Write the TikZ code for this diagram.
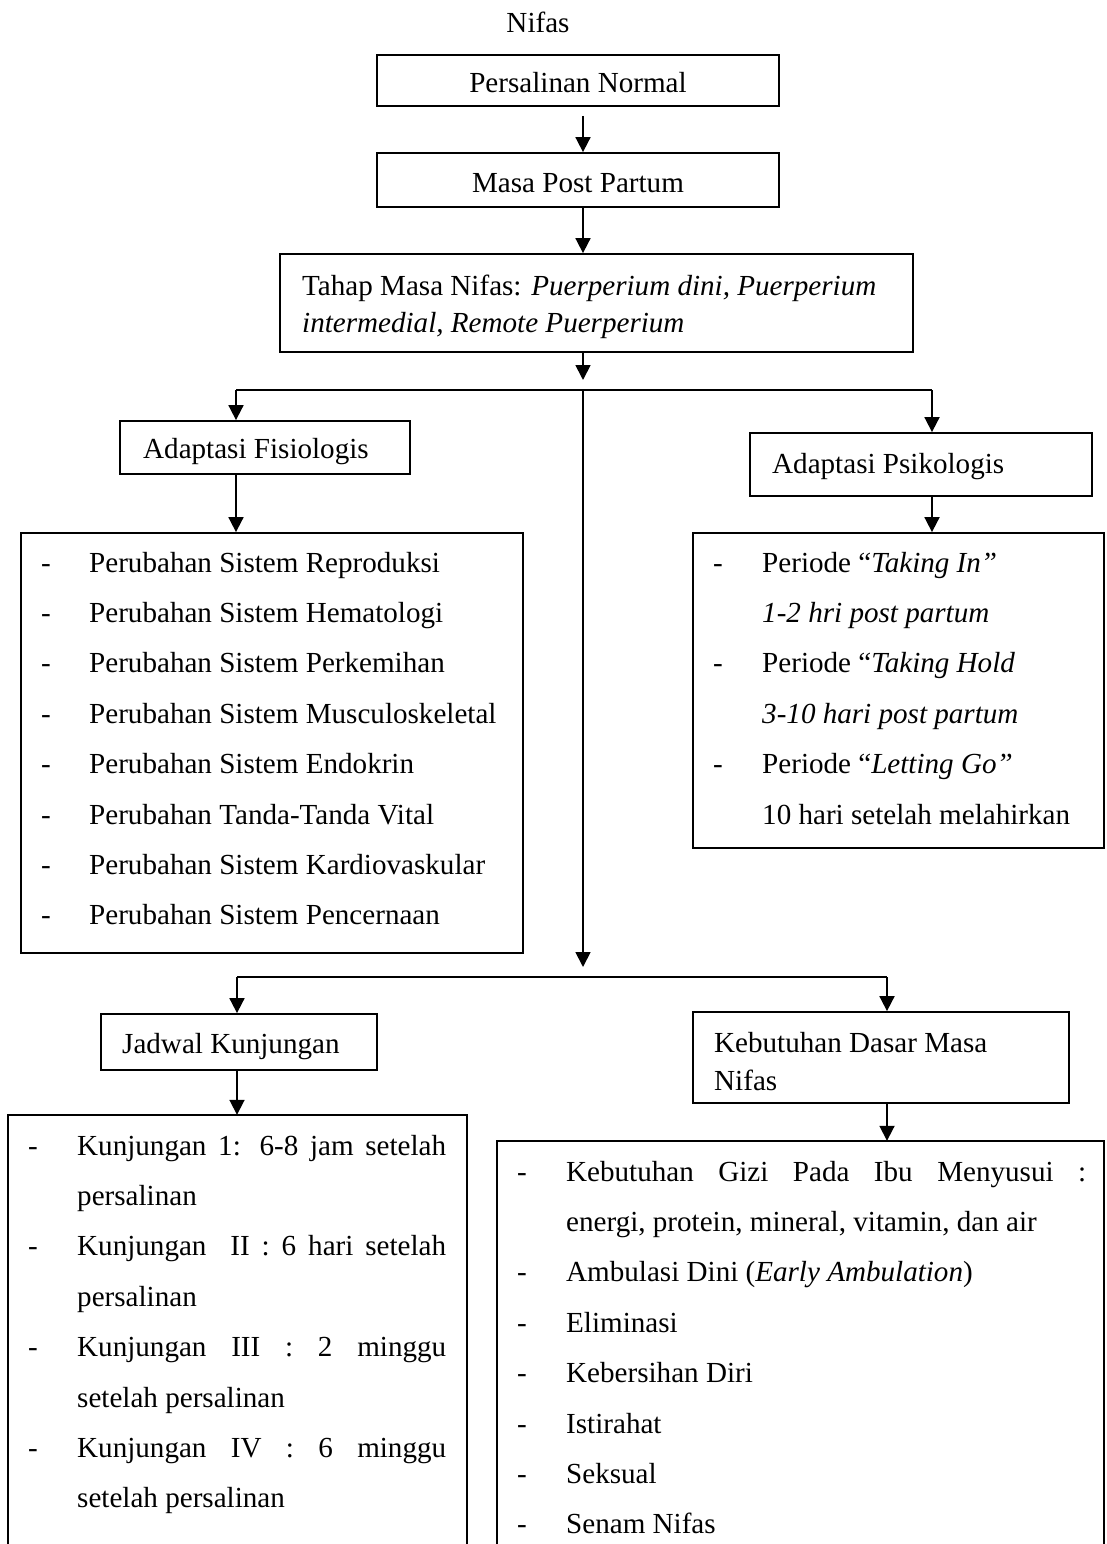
\documentclass[tikz,border=0pt]{standalone}
\usepackage{fontspec}
\setmainfont{Liberation Serif}
\usetikzlibrary{arrows.meta}
\newcommand\fsz{\fontsize{29.1}{35}\selectfont}
\begin{document}
\begin{tikzpicture}[x=1pt,y=-1pt,
  ln/.style={line width=1.8pt},
  arr/.style={line width=1.8pt,-{Triangle[width=15pt,length=15pt]}},
  box/.style={draw,line width=1.8pt,inner sep=0pt},
  txt/.style={inner sep=0pt,anchor=base west,font=\fsz},
  ctxt/.style={inner sep=0pt,anchor=base,font=\fsz},
  dashmark/.style={inner sep=0pt,anchor=base,font=\fsz}]
\useasboundingbox (0,0) rectangle (1106,1544);
\fill[white] (0,0) rectangle (1106,1544);

% coordinates for trunk and junctions
\coordinate (tx) at (583,0);
\coordinate (j1) at (583,390);
\coordinate (l1L) at (236,390);
\coordinate (l1R) at (932,390);
\coordinate (j2) at (583,977);
\coordinate (l2L) at (237,977);
\coordinate (l2R) at (887,977);

% title
\node[ctxt] (title) at (538,33) {Nifas};

% boxes
\node[box,minimum width=402pt,minimum height=51pt] (b1) at (578,80.5) {};
\node[ctxt] (b1t) at (578,93) {Persalinan Normal};
\node[box,minimum width=402pt,minimum height=54pt] (b2) at (578,180) {};
\node[ctxt] (b2t) at (578,192) {Masa Post Partum};
\node[box,minimum width=633pt,minimum height=98pt] (b3) at (596.5,303) {};
\node[txt] (b3t1) at (302,295) {Tahap Masa Nifas: \textit{Puerperium dini, Puerperium}};
\node[txt] (b3t2) at (302,332) {\textit{intermedial, Remote Puerperium}};

\node[box,minimum width=290pt,minimum height=53pt] (fis) at (265,447.5) {};
\node[txt] (fist) at (143,458) {Adaptasi Fisiologis};
\node[box,minimum width=342pt,minimum height=63pt] (psi) at (921,464.5) {};
\node[txt] (psit) at (772,473) {Adaptasi Psikologis};

\node[box,minimum width=502pt,minimum height=420pt] (flist) at (272,743) {};
\node[box,minimum width=411pt,minimum height=315pt] (plist) at (898.5,690.5) {};

\node[box,minimum width=276pt,minimum height=56pt] (jad) at (239,1042) {};
\node[txt] (jadt) at (122,1053) {Jadwal Kunjungan};
\node[box,minimum width=376pt,minimum height=91pt] (keb) at (881,1057.5) {};
\node[txt] (kebt1) at (714,1052) {Kebutuhan Dasar Masa};
\node[txt] (kebt2) at (714,1090) {Nifas};

% open boxes at the bottom (cut by the page edge)
\node[inner sep=0pt,minimum width=459pt,minimum height=429pt] (jlist) at (237.5,1329.5) {};
\draw[ln] (jlist.south west) -- (jlist.north west) -- (jlist.north east) -- (jlist.south east);
\node[inner sep=0pt,minimum width=607pt,minimum height=403pt] (klist) at (800.5,1342.5) {};
\draw[ln] (klist.south west) -- (klist.north west) -- (klist.north east) -- (klist.south east);

% Fisiologis list
\foreach \t [count=\i] in {Perubahan Sistem Reproduksi,Perubahan Sistem Hematologi,Perubahan Sistem Perkemihan,Perubahan Sistem Musculoskeletal,Perubahan Sistem Endokrin,Perubahan Tanda-Tanda Vital,Perubahan Sistem Kardiovaskular,Perubahan Sistem Pencernaan}{
  \node[dashmark] (fd\i) at (46,{572+50.4*(\i-1)}) {-};
  \node[txt] (ft\i) at (89,{572+50.4*(\i-1)}) {\t};
}

% Psikologis list
\node[dashmark] (pd1) at (718,572) {-};
\node[txt] (pt1) at (762,572) {Periode “\textit{Taking In”}};
\node[txt] (pt2) at (762,622.4) {\textit{1-2 hri post partum}};
\node[dashmark] (pd3) at (718,672.8) {-};
\node[txt] (pt3) at (762,672.8) {Periode “\textit{Taking Hold}};
\node[txt] (pt4) at (762,723.2) {\textit{3-10 hari post partum}};
\node[dashmark] (pd5) at (718,773.6) {-};
\node[txt] (pt5) at (762,773.6) {Periode “\textit{Letting Go”}};
\node[txt] (pt6) at (762,824) {10 hari setelah melahirkan};

% Jadwal list
\node[dashmark] (jd1) at (33,1155) {-};
\node[txt] (jt1) at (77,1155) {\makebox[369pt][s]{Kunjungan 1: 6-8 jam setelah}};
\node[txt] (jt2) at (77,1205.4) {persalinan};
\node[dashmark] (jd3) at (33,1255.8) {-};
\node[txt] (jt3) at (77,1255.8) {\makebox[369pt][s]{Kunjungan\ \ II : 6 hari setelah}};
\node[txt] (jt4) at (77,1306.2) {persalinan};
\node[dashmark] (jd5) at (33,1356.6) {-};
\node[txt] (jt5) at (77,1356.6) {\makebox[369pt][s]{Kunjungan III : 2 minggu}};
\node[txt] (jt6) at (77,1407) {setelah persalinan};
\node[dashmark] (jd7) at (33,1457.4) {-};
\node[txt] (jt7) at (77,1457.4) {\makebox[369pt][s]{Kunjungan IV : 6 minggu}};
\node[txt] (jt8) at (77,1507.8) {setelah persalinan};

% Kebutuhan list
\node[dashmark] (kd1) at (522,1181) {-};
\node[txt] (kt1) at (566,1181) {\makebox[520pt][s]{Kebutuhan Gizi Pada Ibu Menyusui :}};
\node[txt] (kt2) at (566,1231.4) {energi, protein, mineral, vitamin, dan air};
\foreach \t [count=\i from 3] in {Ambulasi Dini (\textit{Early Ambulation}),Eliminasi,Kebersihan Diri,Istirahat,Seksual,Senam Nifas}{
  \node[dashmark] (kd\i) at (522,{1181+50.4*(\i-1)}) {-};
  \node[txt] (kt\i) at (566,{1181+50.4*(\i-1)}) {\t};
}

% connectors
\draw[arr,shorten <=9pt] (b1.south -| tx) -- (b2.north -| tx);
\draw[arr] (b2.south -| tx) -- (b3.north -| tx);
\draw[arr,shorten >=10pt] (b3.south -| tx) -- (j1);
\draw[ln] (l1L) -- (l1R);
\draw[arr] (l1L) -- (l1L |- fis.north);
\draw[arr] (l1R) -- (l1R |- psi.north);
\draw[arr] (l1L |- fis.south) -- (l1L |- flist.north);
\draw[arr] (l1R |- psi.south) -- (l1R |- plist.north);
\draw[arr,shorten >=10pt] (j1) -- (j2);
\draw[ln] (l2L) -- (l2R);
\draw[arr] (l2L) -- (l2L |- jad.north);
\draw[arr] (l2R) -- (l2R |- keb.north);
\draw[arr] (l2L |- jad.south) -- (l2L |- jlist.north);
\draw[arr] (l2R |- keb.south) -- (l2R |- klist.north);
\end{tikzpicture}
\end{document}
